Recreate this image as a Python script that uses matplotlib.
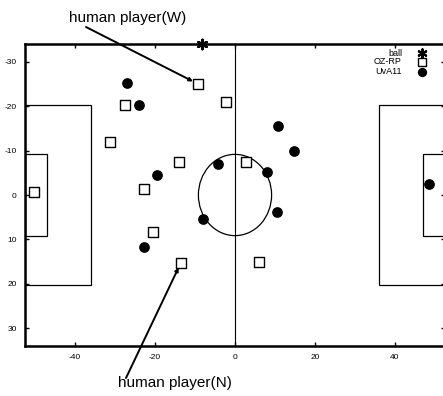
import matplotlib
matplotlib.use("Agg")
import matplotlib.pyplot as plt
from matplotlib.patches import Rectangle, Ellipse

plt.rcParams['font.family'] = ['Liberation Sans', 'DejaVu Sans']
plt.rcParams['axes.unicode_minus'] = False

ball_x = [-8.3]
ball_y = [-34.0]
oz_x = [-9.25, -2.25, -27.5, -31.2, -14.0, -22.7, -50.2, 2.75, -20.5, -13.5, 6.0]
oz_y = [-25.0, -21.0, -20.3, -12.0, -7.4, -1.3, -0.7, -7.4, 8.3, 15.2, 15.0]
uva_x = [-27.0, -24.0, -19.5, -4.25, 10.75, 14.75, 8.0, 48.5, -8.0, -22.7, 10.5]
uva_y = [-25.3, -20.3, -4.5, -6.9, -15.5, -9.9, -5.1, -2.5, 5.4, 11.6, 3.8]
xticks = [-40, -20, 0, 20, 40]
yticks = [-30, -20, -10, 0, 10, 20, 30]

W, H = 443, 396
fig = plt.figure(figsize=(W/100, H/100), dpi=100)
ax = fig.add_axes([25/W, 50/H, 420/W, 302/H])
ax.set_xlim(-52.5, 52.5)
ax.set_ylim(34, -34)

# field lines
lw = 0.9
ax.axvline(0, color='black', lw=0.8)
for side in (-1, 1):
    gx = -52.5 if side == -1 else 52.5
    ax.add_patch(Rectangle((gx if side == -1 else gx - 16.5, -20.16), 16.5, 40.32,
                           fill=False, ec='black', lw=lw))
    ax.add_patch(Rectangle((gx if side == -1 else gx - 5.5, -9.16), 5.5, 18.32,
                           fill=False, ec='black', lw=lw))
ax.add_patch(Ellipse((0, 0), 18.3, 18.3, fill=False, ec='black', lw=lw))

ax.scatter(oz_x, oz_y, marker='s', s=48, facecolor='white', edgecolor='black', lw=1.0, zorder=3, label='OZ-RP')
ax.scatter(uva_x, uva_y, marker='o', s=45, color='black', zorder=3, label='UvA11')
ax.scatter(ball_x, ball_y, marker=(6, 2, 0), s=45, color='black', lw=1.8, zorder=4, clip_on=False, label='ball')

# legend (manual)
lx_text, lx_mark = 402, 422
for i, (lab, kw) in enumerate([
        ('ball', dict(marker=(6, 2, 0), s=35, color='black', lw=1.6)),
        ('OZ-RP', dict(marker='s', s=30, facecolor='white', edgecolor='black', lw=1.0)),
        ('UvA11', dict(marker='o', s=32, color='black'))]):
    yy = [53, 62, 72][i]
    fig.text(lx_text / W, 1 - yy / H, lab, ha='right', va='center', fontsize=6.5)
    ax.scatter([lx_mark], [H - yy], transform=None, clip_on=False, zorder=5, **kw)

ax.set_xticks(xticks)
ax.set_yticks(yticks)
ax.tick_params(direction='in', length=3, width=1, labelsize=6, top=True, right=True, pad=6)
for s in ['left', 'top', 'bottom']:
    ax.spines[s].set_linewidth(1.8)

fig.text(128 / W, 1 - 18 / H, 'human player(W)', ha='center', va='center', fontsize=11)
fig.text(175 / W, 1 - 383 / H, 'human player(N)', ha='center', va='center', fontsize=11)
ax.annotate('', xy=(oz_x[0], oz_y[0]), xytext=(86, H - 27), textcoords='figure pixels',
            arrowprops=dict(arrowstyle='-|>', color='black', lw=1.4, mutation_scale=5, shrinkA=0, shrinkB=4),
            annotation_clip=False)
ax.annotate('', xy=(oz_x[9], oz_y[9]), xytext=(126, H - 378), textcoords='figure pixels',
            arrowprops=dict(arrowstyle='-|>', color='black', lw=1.4, mutation_scale=5, shrinkA=0, shrinkB=4),
            annotation_clip=False)

fig.savefig('out.png', dpi=100)
